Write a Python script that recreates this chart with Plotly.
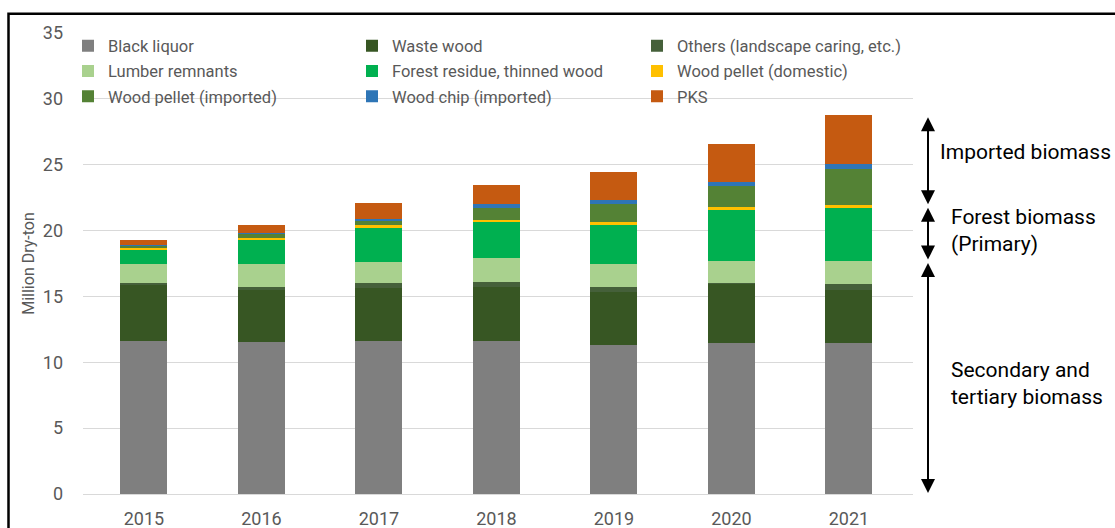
import plotly.graph_objects as go

# Biomass fuel supply by source, million dry-ton
years = ["2015", "2016", "2017", "2018", "2019", "2020", "2021"]

black_liquor = [11.63, 11.57, 11.63, 11.65, 11.32, 11.50, 11.50]
waste_wood = [4.25, 3.93, 4.04, 4.10, 4.05, 4.45, 4.00]
others = [0.12, 0.20, 0.33, 0.33, 0.33, 0.05, 0.43]
lumber_remnants = [1.45, 1.75, 1.60, 1.82, 1.75, 1.72, 1.79]
forest_residue = [1.08, 1.82, 2.63, 2.76, 3.00, 3.85, 4.06]
pellet_domestic = [0.21, 0.18, 0.20, 0.15, 0.18, 0.21, 0.15]
pellet_imported = [0.15, 0.30, 0.31, 0.89, 1.36, 1.59, 2.73]
chip_imported = [0.03, 0.06, 0.15, 0.35, 0.36, 0.35, 0.43]
pks = [0.40, 0.60, 1.19, 1.42, 2.07, 2.89, 3.70]

series = [
    ("Black liquor", black_liquor, "#7F7F7F", "legend"),
    ("Waste wood", waste_wood, "#375623", "legend2"),
    ("Others (landscape caring, etc.)", others, "#45603A", "legend3"),
    ("Lumber remnants", lumber_remnants, "#A9D18E", "legend"),
    ("Forest residue, thinned wood", forest_residue, "#00B050", "legend2"),
    ("Wood pellet (domestic)", pellet_domestic, "#FFC000", "legend3"),
    ("Wood pellet (imported)", pellet_imported, "#548235", "legend"),
    ("Wood chip (imported)", chip_imported, "#2E75B6", "legend2"),
    ("PKS", pks, "#C55A11", "legend3"),
]

# Bracket spans on the right, taken from the 2021 stack boundaries
imported_span = (28.79, 21.93)
forest_span = (21.93, 17.72)
secondary_span = (17.72, 0.0)

FONT = "Roboto, Arial, sans-serif"
GREY = "#595959"

fig = go.Figure()
for i, (name, vals, color, leg) in enumerate(series):
    fig.add_trace(go.Bar(
        x=years, y=vals, name=name, width=0.4,
        marker=dict(color=color, line=dict(width=0)),
        legend=leg, legendgroup=name,
    ))

# plot area: x 83..913 px, y 33..494 px
L, R, T, B = 83, 1115 - 913, 33, 528 - 494
W = 1115 - L - R
H = 528 - T - B


def px_x(p):
    return (p - L) / W


def px_y(p):
    return (528 - B - p) / H


legend_common = dict(
    orientation="v", traceorder="grouped", tracegroupgap=0.8,
    bgcolor="rgba(0,0,0,0)", borderwidth=0,
    font=dict(family=FONT, size=16.5, color=GREY),
    xanchor="left", yanchor="top", y=px_y(28.5),
)

annotations = []
arrow_x = px_x(928)
for top, bot in (imported_span, forest_span, secondary_span):
    annotations.append(dict(
        x=arrow_x, xref="paper", y=bot, yref="y",
        ax=0, axref="pixel", ay=top, ayref="y",
        text="", showarrow=True,
        arrowhead=2, startarrowhead=2, arrowside="end+start",
        arrowsize=1.4, startarrowsize=1.4, arrowwidth=2,
        arrowcolor="black", standoff=1, startstandoff=1,
    ))

text_font = dict(family=FONT, size=21, color="black")
annotations += [
    dict(x=px_x(938), xref="paper", y=25.97, yref="y", xanchor="left",
         yanchor="middle", showarrow=False, align="left",
         text="Imported biomass", font=text_font),
    dict(x=px_x(949), xref="paper", y=19.98, yref="y", xanchor="left",
         yanchor="middle", showarrow=False, align="left",
         text="Forest biomass<br>(Primary)", font=text_font),
    dict(x=px_x(949), xref="paper", y=8.4, yref="y", xanchor="left",
         yanchor="middle", showarrow=False, align="left",
         text="Secondary and<br>tertiary biomass", font=text_font),
]

# frame drawn around the figure
shapes = [dict(
    type="rect", xref="paper", yref="paper",
    x0=px_x(8.5), x1=px_x(1130), y0=px_y(545), y1=px_y(13.8),
    line=dict(color="black", width=2.5), fillcolor="rgba(0,0,0,0)",
    layer="above",
)]

fig.update_layout(
    width=1115, height=528,
    margin=dict(l=L, r=R, t=T, b=B, pad=0, autoexpand=False),
    paper_bgcolor="white", plot_bgcolor="white",
    barmode="stack",
    font=dict(family=FONT, size=16, color=GREY),
    legend=dict(legend_common, x=px_x(68)),
    legend2=dict(legend_common, x=px_x(352)),
    legend3=dict(legend_common, x=px_x(637)),
    annotations=annotations,
    shapes=shapes,
    xaxis=dict(
        type="category", range=[-0.519, 6.545], automargin=False,
        showgrid=False, showline=True, linecolor="#D9D9D9", linewidth=1,
        ticks="", ticklabelstandoff=8,
        tickfont=dict(family=FONT, size=18, color=GREY),
    ),
    yaxis=dict(
        range=[0, 35], dtick=5, showgrid=True, gridcolor="#D9D9D9",
        gridwidth=1, zeroline=False, showline=False, ticks="",
        ticklabelstandoff=19, automargin=False,
        tickfont=dict(family=FONT, size=18, color=GREY),
        title=dict(text="Million Dry-ton", standoff=4,
                   font=dict(family=FONT, size=16, color=GREY)),
    ),
)

fig.write_html("out.html")
